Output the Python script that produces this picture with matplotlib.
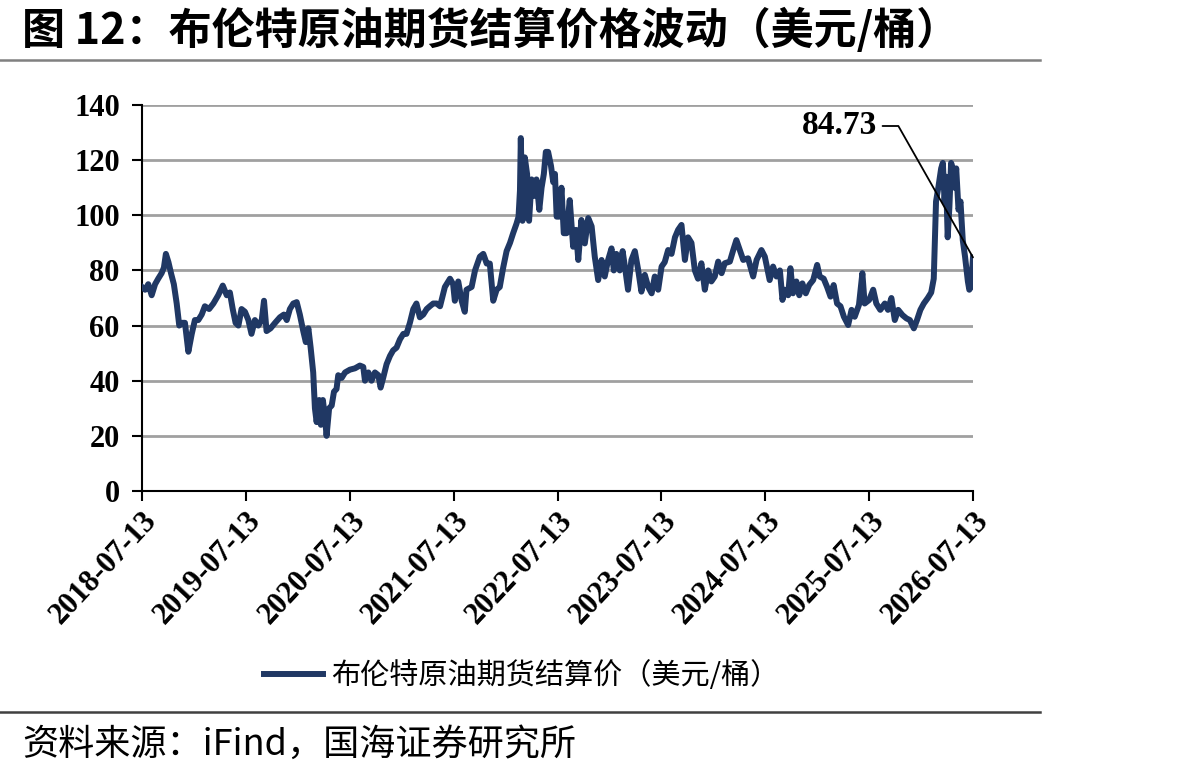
import numpy as np
import matplotlib
matplotlib.use("Agg")
import matplotlib.pyplot as plt
from matplotlib.lines import Line2D

plt.rcParams['font.family'] = ['Noto Sans CJK SC', 'DejaVu Sans']

# Brent settlement price (days after 2018-07-13, USD/bbl)
start = np.datetime64('2018-07-13')
days = [0, 11, 22, 34, 46, 57, 69, 77, 84, 93, 102, 112, 122, 131, 141, 151, 163, 175, 186, 198,
        210, 221, 236, 251, 268, 284, 298, 309, 319, 329, 339, 350, 362, 374, 385, 397, 409, 421, 429, 438,
        452, 468, 485, 499, 509, 520, 532, 544, 555, 567, 576, 585, 593, 602, 608, 614, 623, 629, 636, 643,
        649, 658, 667, 675, 684, 690, 702, 714, 731, 749, 766, 778, 784, 796, 807, 819, 831, 839, 848, 860,
        872, 883, 895, 907, 919, 930, 942, 954, 965, 977, 989, 1001, 1012, 1024, 1036, 1048, 1065, 1083, 1094, 1100,
        1112, 1124, 1135, 1141, 1159, 1171, 1188, 1200, 1212, 1223, 1235, 1247, 1258, 1270, 1282, 1294, 1305, 1317, 1324, 1329,
        1332, 1338, 1346, 1354, 1361, 1370, 1378, 1387, 1397, 1405, 1413, 1420, 1428, 1438, 1446, 1452, 1458, 1467, 1475, 1483,
        1493, 1504, 1516, 1526, 1534, 1545, 1557, 1569, 1581, 1592, 1604, 1616, 1627, 1639, 1651, 1659, 1668, 1680, 1690, 1698,
        1709, 1721, 1733, 1745, 1756, 1768, 1780, 1792, 1803, 1815, 1827, 1838, 1850, 1862, 1874, 1885, 1897, 1909, 1920, 1932,
        1944, 1955, 1967, 1979, 1991, 2002, 2014, 2026, 2038, 2049, 2067, 2079, 2090, 2102, 2114, 2131, 2149, 2161, 2178, 2190,
        2207, 2219, 2231, 2243, 2252, 2260, 2272, 2280, 2289, 2301, 2311, 2322, 2334, 2346, 2360, 2374, 2383, 2397, 2409, 2421,
        2432, 2444, 2456, 2468, 2483, 2495, 2506, 2521, 2533, 2541, 2557, 2571, 2582, 2596, 2612, 2623, 2635, 2647, 2659, 2674,
        2688, 2700, 2714, 2725, 2737, 2749, 2763, 2775, 2784, 2792, 2800, 2810, 2816, 2822, 2827, 2833, 2839, 2845, 2851, 2857,
        2863, 2871, 2878, 2886, 2894, 2904, 2909, 2915, 2922]
prices = [74, 73, 75, 71, 75, 77, 79, 81, 86, 83, 79, 75, 68, 60, 61, 61, 50.5, 57, 62, 62,
          64, 67, 66, 68, 71, 74.5, 71, 72, 66, 61, 60, 66, 65, 62, 57, 62, 60, 62, 69, 58,
          59, 61, 63, 64, 62, 66, 68, 68.5, 64, 58, 54, 59, 52, 43, 30, 25, 33, 24, 33, 27,
          20, 30, 31, 36, 37, 42, 41, 43, 44, 44.5, 45.5, 45, 40, 43, 40, 43, 42, 37.5, 41, 46,
          49, 51, 52, 55, 57, 57, 61, 66, 68, 63, 64, 66, 67, 68, 68, 67, 74, 77, 75, 69,
          76, 69, 65, 73, 74, 80, 85, 86, 82.5, 82.5, 69, 73, 74, 81, 87, 90, 93.5, 97, 99.5, 109,
          128, 98, 121, 115, 98, 113, 107, 113, 102, 110, 115, 123, 123, 118, 112, 115, 99.5, 99.5, 110, 93.5,
          93.5, 105.5, 88.6, 94.7, 83.8, 98.3, 89.8, 99, 96, 85, 76.5, 83.8, 77.8, 83.8, 88, 80, 86, 80, 87, 81.4,
          73, 83.8, 87, 80, 72.3, 78.4, 74, 71.7, 77.8, 73, 81.4, 83, 87.4, 86, 92, 94.7, 96.5, 83.8, 92, 90,
          80, 77, 82.6, 73, 80, 76, 77.8, 83.2, 79, 82.6, 83.2, 87.4, 91, 87.4, 83.8, 84.4, 77.8, 83.8, 87.4, 85,
          76.5, 81.4, 77.8, 80, 69.3, 73, 71, 80.8, 71.7, 76, 71, 75.3, 71.7, 74.7, 76.5, 82, 77.8, 77, 74, 70.5,
          74.7, 68, 67, 63.2, 60.2, 65.7, 63.2, 67.5, 79, 68, 69.3, 73, 68, 65.7, 68, 65.7, 70, 62, 65.7, 63.8,
          62.6, 62, 59, 62, 65.7, 68, 70, 72, 77, 105, 110, 117, 119, 105, 114, 92, 103, 119, 117, 110,
          117, 102, 105, 91, 85, 76, 73, 74, 84.73]
tick_dates = ['2018-07-13', '2019-07-13', '2020-07-13', '2021-07-13', '2022-07-13',
              '2023-07-13', '2024-07-13', '2025-07-13', '2026-07-13']
series_name = '布伦特原油期货结算价（美元/桶）'
last_label = '84.73'

dates = start + np.array(days, dtype='timedelta64[D]')
ticks = np.array(tick_dates, dtype='datetime64[D]')

W, H = 1191, 779
fig = plt.figure(figsize=(W / 100, H / 100), dpi=100)
ax = fig.add_axes([142 / W, 1 - 491 / H, (973 - 142) / W, (491 - 105) / H])

navy = '#203864'
ax.plot(dates, prices, color=navy, lw=4.3, solid_joinstyle='round', label=series_name, zorder=3)

ax.set_xlim(ticks[0], ticks[-1])
ax.set_ylim(0, 140)
ax.set_yticks(range(0, 141, 20))
ax.set_xticks(ticks)
ax.set_xticklabels(tick_dates)
ax.yaxis.grid(True, color='#A0A0A0', lw=2)
ax.set_axisbelow(True)
for s in ['top', 'right']:
    ax.spines[s].set_visible(False)
for s in ['left', 'bottom']:
    ax.spines[s].set_linewidth(1.5)
    ax.spines[s].set_color('black')
ax.tick_params(axis='both', direction='out', length=7, width=1.5, color='black')
ax.tick_params(axis='y', pad=9)
ax.tick_params(axis='x', pad=4)
serif = ['Liberation Serif', 'DejaVu Serif']
for lab in ax.get_yticklabels():
    lab.set_fontfamily(serif)
    lab.set_fontweight('bold')
    lab.set_fontsize(22)
for lab in ax.get_xticklabels():
    lab.set_fontfamily(serif)
    lab.set_fontweight('bold')
    lab.set_fontsize(22)
    lab.set_rotation(47)
    lab.set_ha('right')
    lab.set_rotation_mode('anchor')

ax.annotate(last_label, xy=(dates[-1], prices[-1]), xycoords='data',
            xytext=(877 / W, 1 - 126 / H), textcoords='figure fraction',
            ha='right', va='center', fontsize=24, fontweight='bold', family=serif,
            arrowprops=dict(arrowstyle='-', color='black', lw=1.3, shrinkA=2, shrinkB=0,
                            connectionstyle='angle,angleA=0,angleB=-60.4,rad=0'))

fig.text(22 / W, 1 - 30 / H, '图 12：布伦特原油期货结算价格波动（美元/桶）',
         fontsize=31, fontweight='bold', va='center', ha='left')
fig.add_artist(Line2D([0, 1040 / W], [1 - 60 / H] * 2, transform=fig.transFigure, color='#808080', lw=1.8))
fig.add_artist(Line2D([0, 1040 / W], [1 - 712 / H] * 2, transform=fig.transFigure, color='#404040', lw=1.8))

fig.legend(loc='center', bbox_to_anchor=(522 / W, 1 - 676 / H), frameon=False,
           fontsize=21, handlelength=2.0, handletextpad=0.3)

fig.text(22 / W, 1 - 745 / H, '资料来源：iFind，国海证券研究所', fontsize=26, va='center', ha='left')

fig.savefig('out.png', dpi=100)
